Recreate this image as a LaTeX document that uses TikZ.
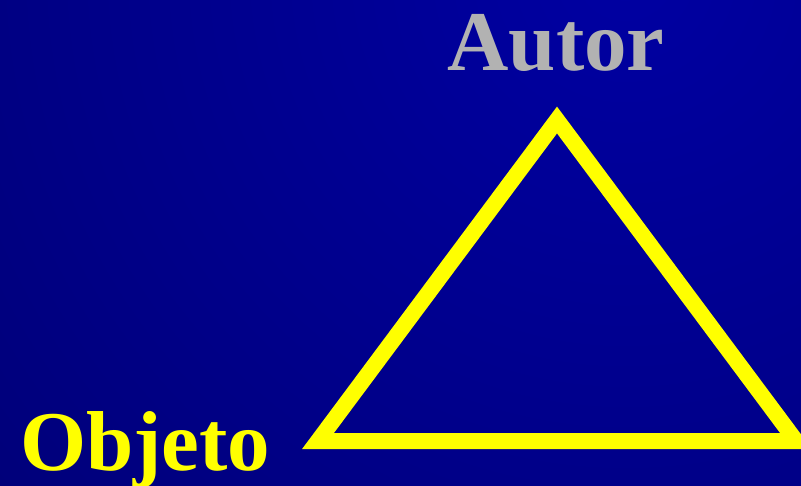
\documentclass[tikz,border=0pt]{standalone}
\usepackage{fontspec}
\setmainfont{Liberation Serif}
\usepackage{xcolor}
\usetikzlibrary{positioning}

\definecolor{bgdark}{RGB}{0,0,98}
\definecolor{bglight}{RGB}{0,0,162}
\definecolor{autorgray}{RGB}{178,178,178}
\definecolor{lineyellow}{RGB}{255,255,0}

\tikzset{
  bigword/.style={font=\fontsize{85}{90}\selectfont\bfseries, inner sep=0pt},
  triline/.style={draw=lineyellow, line width=16pt, miter limit=10}
}

\begin{document}
\begin{tikzpicture}[x=1pt,y=-1pt]
\useasboundingbox (0,0) rectangle (801,485);
\clip (0,0) rectangle (801,485);
% background
\shade[inner color=bglight, outer color=bgdark] (625,-30) circle (1300);

% triangle corners
\coordinate (apex) at (557,120);
\coordinate (left) at (318,441);
\coordinate (right) at (796,441);
\draw[triline] (apex) -- (left) -- (right) -- cycle;

\node[bigword, text=autorgray, anchor=base] (autor) at (556,70) {Autor};
\node[bigword, text=lineyellow, anchor=base west] (objeto) at (20,470) {Objeto};
\end{tikzpicture}
\end{document}
